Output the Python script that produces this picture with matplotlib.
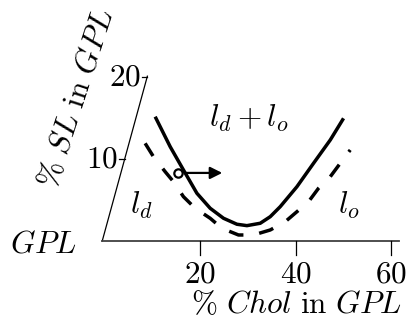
import numpy as np
import matplotlib.pyplot as plt
from matplotlib.transforms import Affine2D

plt.rcParams['mathtext.fontset'] = 'cm'

# phase boundaries (% Chol, % SL)
solid_chol = [10.58, 13.72, 16.50, 19.31, 22.09, 24.88, 27.69, 29.78, 32.57, 34.66, 36.75, 40.25, 43.73, 47.23, 50.01]
solid_sl = [15.16, 11.50, 8.66, 5.82, 3.99, 2.77, 2.04, 1.87, 2.16, 2.96, 4.18, 6.62, 9.48, 12.32, 14.96]
dash_chol = [8.48, 10.22, 12.67, 14.41, 16.50, 18.95, 22.09, 24.54, 28.02, 31.16, 34.66, 37.80, 40.25, 42.68, 44.77, 47.23, 49.32, 51.41]
dash_sl = [11.91, 10.28, 8.45, 7.23, 5.40, 3.99, 2.77, 1.55, 0.73, 0.73, 1.34, 2.35, 3.57, 4.79, 6.43, 7.84, 9.48, 11.10]

x_ticks = [20, 40, 60]
y_ticks = [10, 20]
point = (15.3, 8.3)
arrow_to = 25.2

fs = 22.5
fig = plt.figure(figsize=(4.08, 3.31), dpi=100)
ax = fig.add_axes([0, 0, 1, 1])
ax.set_xlim(-21.9, 63.5)
ax.set_ylim(-10.98, 29.39)
ax.axis('off')

# slanted y axis
skew = Affine2D().skew(np.arctan(0.47), 0) + ax.transData
x0 = -0.5
ax.plot([x0, x0], [0, 20.1], color='k', lw=0.9, transform=skew)
for t in y_ticks:
    ax.plot([x0 - 1.1, x0], [t, t], color='k', lw=0.9, transform=skew)
    ax.text(x0 - 1.3, t, '$%d$' % t, fontsize=fs, ha='right', va='center', transform=skew)

# x axis
ax.plot([x0, 61.7], [0, 0], color='0.25', lw=1.3)
for t in x_ticks:
    ax.plot([t, t], [0, -1.7], color='k', lw=0.9)
    ax.text(t, -2.2, '$%d$' % t, fontsize=fs, ha='center', va='top')

# boundaries
ax.plot(solid_chol, solid_sl, color='k', lw=2.5, solid_capstyle='butt', solid_joinstyle='round')
ax.plot(dash_chol, dash_sl, color='k', lw=2.5, dashes=(4.3, 4.6), dash_capstyle='butt')

# marker and arrow
ax.annotate('', xy=(arrow_to, point[1]), xytext=(point[0] + 0.9, point[1]),
            arrowprops=dict(arrowstyle='-|>', color='k', lw=1.6, mutation_scale=18))
ax.plot([point[0]], [point[1]], 'o', ms=6, mfc='white', mec='k', mew=1.6)

# labels
ax.text(30.1, 14.9, r'$l_d + l_o$', fontsize=fs, ha='center', va='center')
ax.text(7.6, 4.3, r'$l_d$', fontsize=fs, ha='center', va='center')
ax.text(51.2, 4.3, r'$l_o$', fontsize=fs, ha='center', va='center')
ax.text(-12.9, -0.4, r'$GPL$', fontsize=fs, ha='center', va='center')
ax.text(40.1, -7.8, r'$\%\ Chol\ \mathrm{in}\ GPL$', fontsize=fs, ha='center', va='center')
ax.text(-5.76, 17.4, r'$\%\ SL\ \mathrm{in}\ GPL$', fontsize=fs, ha='center', va='center',
        rotation=72, rotation_mode='anchor')

fig.savefig('out.png', dpi=100)
